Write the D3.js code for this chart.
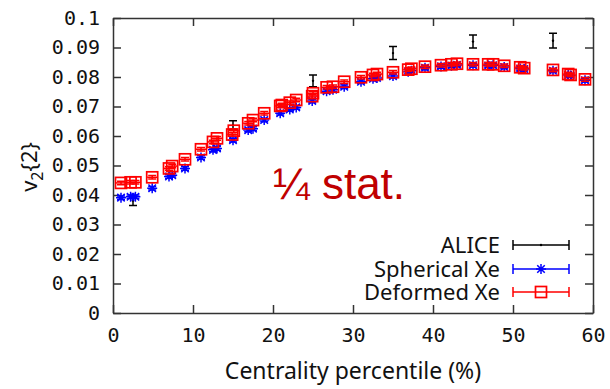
<!DOCTYPE html>
<html>
<head>
<meta charset="utf-8">
<script src="https://cdn.jsdelivr.net/npm/d3@7"></script>
<style>
  html, body { margin: 0; padding: 0; background: #fff; }
  svg { display: block; }
</style>
</head>
<body>
<svg id="chart" width="610" height="389"></svg>
<script>
// Centrality bins (%) and elliptic flow v2{2}
const aliceX = [2.5, 15, 25, 35, 45, 55];
const aliceY = [0.0381, 0.0637, 0.0787, 0.0881, 0.0920, 0.0923];
const aliceErr = [0.0017, 0.0015, 0.0020, 0.0022, 0.0022, 0.0025];

const sphericalX = [1, 2.2, 2.8, 4.9, 7.0, 7.4, 9.0, 11, 12.5, 13, 15, 16.9, 17.5, 18.9, 20.9, 22.1, 22.9, 24.9,
  26.7, 27.5, 28.9, 31, 32.5, 33, 35, 36.9, 37.3, 39, 41, 42.3, 43, 45, 46.9, 47.5, 48.9, 50.9, 51.4, 55, 56.9, 57.2, 59];
const sphericalY = [0.0391, 0.0394, 0.0394, 0.0423, 0.0463, 0.0467, 0.0490, 0.0527, 0.0553, 0.0558, 0.0586, 0.0620, 0.0625,
  0.0654, 0.0677, 0.0690, 0.0697, 0.0719, 0.0752, 0.0757, 0.0767, 0.0784, 0.0794, 0.0797, 0.0803, 0.0818, 0.0821,
  0.0831, 0.0836, 0.0838, 0.0841, 0.0840, 0.0839, 0.0840, 0.0834, 0.0829, 0.0827, 0.0821, 0.0807, 0.0805, 0.0789];

const deformedX = [1, 2.2, 2.8, 4.9, 7.0, 7.4, 9.0, 11, 12.5, 13, 14.9, 15.1, 16.9, 17.5, 18.9, 20.9, 21.1, 22.1, 22.9,
  24.9, 25.0, 26.7, 27.5, 28.9, 31, 32.5, 33, 35, 36.9, 37.3, 39, 41, 42.3, 43, 45, 46.9, 47.5, 48.9, 50.9, 51.4, 55, 56.9, 57.2, 59];
const deformedY = [0.0441, 0.0443, 0.0443, 0.0460, 0.0490, 0.0498, 0.0521, 0.0555, 0.0580, 0.0592, 0.0605, 0.0618,
  0.0643, 0.0654, 0.0677, 0.0702, 0.0705, 0.0713, 0.0722, 0.0735, 0.0745, 0.0765, 0.0767, 0.0784, 0.0799, 0.0807,
  0.0810, 0.0816, 0.0825, 0.0828, 0.0835, 0.0840, 0.0843, 0.0845, 0.0843, 0.0843, 0.0843, 0.0838, 0.0833, 0.0830,
  0.0824, 0.0810, 0.0807, 0.0792];
const modelErr = 0.0006;

const xTicks = [0, 10, 20, 30, 40, 50, 60];
const yTicks = [0, 0.01, 0.02, 0.03, 0.04, 0.05, 0.06, 0.07, 0.08, 0.09, 0.1];
const yTickLabels = ["0", "0.01", "0.02", "0.03", "0.04", "0.05", "0.06", "0.07", "0.08", "0.09", "0.1"];
const legendLabels = ["ALICE", "Spherical Xe", "Deformed Xe"];

const colors = { alice: "#000000", spherical: "#0000ff", deformed: "#ff0000" };
const frameColor = "#333333";

const svg = d3.select("#chart");
const L = 113, R = 593, T = 18, B = 313;
const x = d3.scaleLinear().domain([0, 60]).range([L, R]);
const y = d3.scaleLinear().domain([0, 0.1]).range([B, T]);

// Axes (ticks point inward)
function styleAxis(g) {
  g.selectAll("path.domain").attr("stroke", frameColor).attr("stroke-width", 1.5);
  g.selectAll(".tick line").attr("stroke", frameColor).attr("stroke-width", 1.5);
  g.selectAll(".tick text")
    .attr("fill", "#111")
    .style("font-family", "'DejaVu Sans Mono', monospace")
    .style("font-size", "20px");
}
svg.append("g").attr("transform", `translate(0,${B})`)
  .call(d3.axisBottom(x).tickValues(xTicks).tickSize(-8).tickSizeOuter(0).tickPadding(15).tickFormat(d3.format("d")))
  .call(styleAxis);
svg.append("g").attr("transform", `translate(0,${T})`)
  .call(d3.axisTop(x).tickValues(xTicks).tickSize(-8).tickSizeOuter(0).tickFormat(""))
  .call(styleAxis);
svg.append("g").attr("transform", `translate(${L},0)`)
  .call(d3.axisLeft(y).tickValues(yTicks).tickSize(-8).tickSizeOuter(0).tickPadding(13)
    .tickFormat((d, i) => yTickLabels[i]))
  .call(styleAxis);
svg.append("g").attr("transform", `translate(${R},0)`)
  .call(d3.axisRight(y).tickValues(yTicks).tickSize(-8).tickSizeOuter(0).tickFormat(""))
  .call(styleAxis);
svg.selectAll(".domain").attr("fill", "none");

// Marker drawing helpers
function drawSquare(g, cx, cy, color) {
  const s = 5.5;
  g.append("rect").attr("x", cx - s).attr("y", cy - s).attr("width", 2 * s).attr("height", 2 * s)
    .attr("fill", "none").attr("stroke", color).attr("stroke-width", 1.7);
}
function drawStar(g, cx, cy, color) {
  const s = 5;
  const p = `M${cx - s},${cy}H${cx + s}M${cx},${cy - s}V${cy + s}` +
            `M${cx - s * 0.75},${cy - s * 0.75}L${cx + s * 0.75},${cy + s * 0.75}` +
            `M${cx - s * 0.75},${cy + s * 0.75}L${cx + s * 0.75},${cy - s * 0.75}`;
  g.append("path").attr("d", p).attr("fill", "none").attr("stroke", color).attr("stroke-width", 1.5);
}
function drawErrorBars(g, cx, v, err, color, capW) {
  const y0 = y(v - err), y1 = y(v + err);
  g.append("path")
    .attr("d", `M${cx},${y0}V${y1}M${cx - capW},${y0}H${cx + capW}M${cx - capW},${y1}H${cx + capW}`)
    .attr("fill", "none").attr("stroke", color).attr("stroke-width", 1.5);
}

// ALICE measurements
const gA = svg.append("g");
aliceX.forEach((xv, i) => {
  const cx = x(xv);
  drawErrorBars(gA, cx, aliceY[i], aliceErr[i], colors.alice, 4);
  gA.append("circle").attr("cx", cx).attr("cy", y(aliceY[i])).attr("r", 1.2).attr("fill", colors.alice);
});

// Spherical Xe model
const gS = svg.append("g");
sphericalX.forEach((xv, i) => {
  const cx = x(xv), cy = y(sphericalY[i]);
  drawErrorBars(gS, cx, sphericalY[i], modelErr, colors.spherical, 4);
  drawStar(gS, cx, cy, colors.spherical);
});

// Deformed Xe model
const gD = svg.append("g");
deformedX.forEach((xv, i) => {
  const cx = x(xv), cy = y(deformedY[i]);
  drawErrorBars(gD, cx, deformedY[i], modelErr, colors.deformed, 4);
  gD.append("path").attr("d", `M${cx - 5},${cy}H${cx + 5}`).attr("stroke", colors.deformed).attr("stroke-width", 1.5);
  drawSquare(gD, cx, cy, colors.deformed);
});

// Legend
const legendColors = [colors.alice, colors.spherical, colors.deformed];
const legendRows = [245, 269, 292];
const lg = svg.append("g");
legendLabels.forEach((lab, i) => {
  const ry = legendRows[i];
  lg.append("text").attr("x", 500).attr("y", ry + 8).attr("text-anchor", "end")
    .style("font-family", "'Noto Sans', sans-serif").style("font-size", "22px").attr("fill", "#111").text(lab);
  const c = legendColors[i];
  lg.append("path")
    .attr("d", `M513,${ry}H569M513,${ry - 5}V${ry + 5}M569,${ry - 5}V${ry + 5}`)
    .attr("stroke", c).attr("stroke-width", 1.5).attr("fill", "none");
  if (i === 0) lg.append("circle").attr("cx", 541).attr("cy", ry).attr("r", 1.2).attr("fill", c);
  if (i === 1) drawStar(lg, 541, ry, c);
  if (i === 2) drawSquare(lg, 541, ry, c);
});

// Axis titles
svg.append("text").attr("x", 353).attr("y", 379).attr("text-anchor", "middle")
  .style("font-family", "'Noto Sans', sans-serif").style("font-size", "23px").attr("fill", "#111")
  .text("Centrality percentile (%)");

const yl = svg.append("text").attr("transform", "translate(37,167) rotate(-90)").attr("text-anchor", "middle")
  .style("font-family", "'Noto Sans', sans-serif").style("font-size", "22px").attr("fill", "#111");
yl.append("tspan").text("v");
yl.append("tspan").attr("dy", 6).style("font-size", "16px").text("2");
yl.append("tspan").attr("dy", -6).text("{2}");

// Annotation
svg.append("text").attr("x", 273).attr("y", 199)
  .style("font-family", "'Liberation Sans', Arial, sans-serif").style("font-size", "44px").attr("fill", "#c00000")
  .text("¼ stat.");
</script>
</body>
</html>
